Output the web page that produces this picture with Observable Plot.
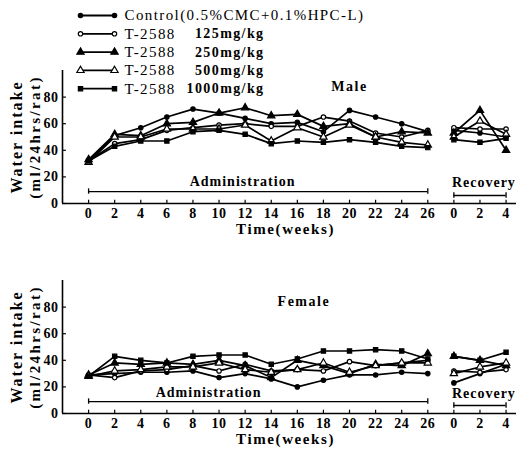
<!DOCTYPE html>
<html><head><meta charset="utf-8">
<script src="https://cdn.jsdelivr.net/npm/d3@7"></script>
<script src="https://cdn.jsdelivr.net/npm/@observablehq/plot@0.6"></script>
<style>
body{margin:0;background:#fff;}
#wrap{position:relative;width:516px;height:453px;overflow:hidden;}
#wrap svg{display:block;}
#wrap .legend{position:absolute;left:0;top:0;pointer-events:none;}
</style></head><body><div id="wrap"></div>
<script>
// ---- data ----
const adminWeeks = [0,2,4,6,8,10,12,14,16,18,20,22,24,26];
const recWeeks = [0,2,4];
const xTickValues = [0,2,4,6,8,10,12,14,16,18,20,22,24,26,28,30,32];
const yTickValues = [0,20,40,60,80];
const seriesDrug = ["Control(0.5%CMC+0.1%HPC-L)","T-2588","T-2588","T-2588","T-2588"];
const seriesDose = ["","125mg/kg","250mg/kg","500mg/kg","1000mg/kg"];
const seriesSymbol = ["circle","circle","triangle","triangle","square"];
const seriesFill = ["black","white","black","white","black"];

// Male, ml/24hrs/rat
const maleControl = [32,51,57,65,71,68,64,60,61,54,70,65,60,54];
const male125     = [32,45,48,55,57,59,60,58,58,65,62,53,50,55];
const male250     = [33,52,51,60,61,68,72,66,67,58,60,50,54,53];
const male500     = [31,50,50,56,56,56,59,47,57,50,59,50,46,44];
const male1000    = [32,43,47,47,54,55,52,45,47,46,48,46,43,42];
const maleRecControl = [55,53,50];
const maleRec125     = [57,56,56];
const maleRec250     = [53,70,40];
const maleRec500     = [50,62,52];
const maleRec1000    = [48,46,49];

// Female
const femaleControl = [29,30,31,31,32,27,30,26,20,25,29,29,31,30];
const female125     = [29,27,32,33,36,32,37,32,33,32,39,36,38,40];
const female250     = [29,38,37,38,37,40,36,27,40,36,30,37,36,45];
const female500     = [28,32,33,35,35,38,33,31,33,38,31,36,38,38];
const female1000    = [28,43,40,38,43,44,44,37,41,47,47,48,47,41];
const femaleRecControl = [23,30,37];
const femaleRec125     = [32,31,33];
const femaleRec250     = [43,40,36];
const femaleRec500     = [30,35,38];
const femaleRec1000    = [43,40,46];

const recOffset = 28; // recovery week 0 sits right after week 26

function buildRows(admin, rec) {
  const rows = [];
  admin.forEach((arr, s) => arr.forEach((v, i) => rows.push({s, phase: "a", x: adminWeeks[i], v})));
  rec.forEach((arr, s) => arr.forEach((v, i) => rows.push({s, phase: "r", x: recOffset + recWeeks[i], v})));
  return rows;
}

const font = '"Liberation Serif", "DejaVu Serif", serif';
const symR = sym => sym === "circle" ? 2.2 : sym === "triangle" ? 2.7 : 2.4;

const spacing = {"Water intake": "2px", "(ml/24hrs/rat)": "2.4px", "Time(weeks)": "1.6px",
  "Administration": "1px", "Recovery": "1px", "Male": "1.5px", "Female": "1.5px"};
function applySpacing(svg) {
  d3.select(svg).selectAll("text").each(function() {
    const s = spacing[this.textContent];
    if (s) this.style.letterSpacing = s;
  });
  return svg;
}

function panel({admin, rec, title, titleX, titleY, adminX, adminY, adminBar, recBar, recY, marginTop, height, marginBottom}) {
  const rows = buildRows(admin, rec);
  const dots = seriesSymbol.map((sym, s) => Plot.dot(rows.filter(d => d.s === s), {
    x: "x", y: "v", symbol: sym, fill: seriesFill[s], stroke: "black", strokeWidth: 1.2, r: symR(sym)
  }));
  return applySpacing(Plot.plot({
    width: 516, height, marginLeft: 62, marginRight: 0, marginTop, marginBottom,
    x: {domain: [-2, 32.8], label: null},
    y: {domain: [0, 100], label: null},
    style: {fontFamily: font, fontSize: "14px", fontWeight: "bold", background: "white", letterSpacing: "0.5px"},
    marks: [
      Plot.ruleY([0], {stroke: "black", strokeWidth: 1.6}),
      Plot.ruleX([-2], {y1: 0, y2: 100, stroke: "black", strokeWidth: 1.6}),
      Plot.ruleX(xTickValues, {y1: 0, y2: 2.5, stroke: "black", strokeWidth: 1.2}),
      Plot.ruleY(yTickValues, {x1: -2, x2: -1.7, stroke: "black", strokeWidth: 1.2}),
      Plot.axisX(xTickValues, {tickSize: 0, tickPadding: 5, label: null,
        tickFormat: d => d > 26 ? String(d - recOffset) : String(d), fontSize: 14, fontWeight: "bold"}),
      Plot.axisY(yTickValues, {tickSize: 0, tickPadding: 4, label: null, fontSize: 14, fontWeight: "bold"}),
      Plot.text(["Water intake"], {frameAnchor: "left", textAnchor: "middle", dx: -46, rotate: -90, fontSize: 16, fontWeight: "bold"}),
      Plot.text(["(ml/24hrs/rat)"], {frameAnchor: "left", textAnchor: "middle", dx: -27, rotate: -90, fontSize: 15, fontWeight: "bold"}),
      Plot.text(["Time(weeks)"], {x: () => 15.1, frameAnchor: "bottom", dy: 30, fontSize: 15, fontWeight: "bold"}),
      Plot.text([title], {x: () => titleX, y: () => titleY, fontSize: 14, fontWeight: "bold"}),
      Plot.text(["Administration"], {x: () => adminX, y: () => adminY, fontSize: 14, fontWeight: "bold"}),
      Plot.text(["Recovery"], {x: () => 30.3, y: () => recY, fontSize: 14, fontWeight: "bold"}),
      Plot.ruleY([adminBar], {x1: 0, x2: 26, stroke: "black", strokeWidth: 1.3}),
      Plot.ruleX([0, 26], {y1: adminBar - 2, y2: adminBar + 2, stroke: "black", strokeWidth: 1.3}),
      Plot.ruleY([recBar], {x1: recOffset, x2: recOffset + 4, stroke: "black", strokeWidth: 1.3}),
      Plot.ruleX([recOffset, recOffset + 4], {y1: recBar - 2, y2: recBar + 2, stroke: "black", strokeWidth: 1.3}),
      Plot.line(rows, {x: "x", y: "v", z: d => d.s + d.phase, stroke: "black", strokeWidth: 1.7}),
      ...dots
    ]
  }));
}

const male = panel({
  admin: [maleControl, male125, male250, male500, male1000],
  rec: [maleRecControl, maleRec125, maleRec250, maleRec500, maleRec1000],
  title: "Male", titleX: 20, titleY: 88, adminX: 11.8, adminY: 16.5, adminBar: 9, recBar: 6, recY: 16,
  marginTop: 70, height: 240, marginBottom: 37
});
const female = panel({
  admin: [femaleControl, female125, female250, female500, female1000],
  rec: [femaleRecControl, femaleRec125, femaleRec250, femaleRec500, femaleRec1000],
  title: "Female", titleX: 16.5, titleY: 84, adminX: 9.2, adminY: 16, adminBar: 9, recBar: 6, recY: 15,
  marginTop: 40, height: 213, marginBottom: 40
});

// legend (overlaid at the top left of the male panel)
const legIdx = seriesDrug.map((_, i) => i);
const rowY = i => 15 + i * 18.3;
const legEnds = legIdx.flatMap(i => [{i, x: 80}, {i, x: 114}]);
const legend = Plot.plot({
  width: 380, height: 100, margin: 0,
  x: {type: "identity", axis: null}, y: {type: "identity", axis: null},
  style: {fontFamily: font, fontSize: "15px", background: "transparent", letterSpacing: "1.4px"},
  marks: [
    Plot.link(legIdx, {x1: () => 80, x2: () => 114, y1: rowY, y2: rowY, stroke: "black", strokeWidth: 1.8}),
    ...seriesSymbol.map((sym, s) => Plot.dot(legEnds.filter(d => d.i === s), {
      x: "x", y: d => rowY(d.i), symbol: sym, fill: seriesFill[s], stroke: "black", strokeWidth: 1.2, r: symR(sym)
    })),
    Plot.text(legIdx, {x: () => 124, y: rowY, text: i => seriesDrug[i], textAnchor: "start",
      fontWeight: i => i === 0 ? "normal" : "bold"}),
    Plot.text(legIdx, {x: () => 264, y: rowY, text: i => seriesDose[i], textAnchor: "end", fontWeight: "bold", fontSize: 14})
  ]
});
legend.classList.add("legend");

const wrap = document.getElementById("wrap");
wrap.appendChild(male);
wrap.appendChild(female);
wrap.appendChild(legend);
</script>
</body></html>
